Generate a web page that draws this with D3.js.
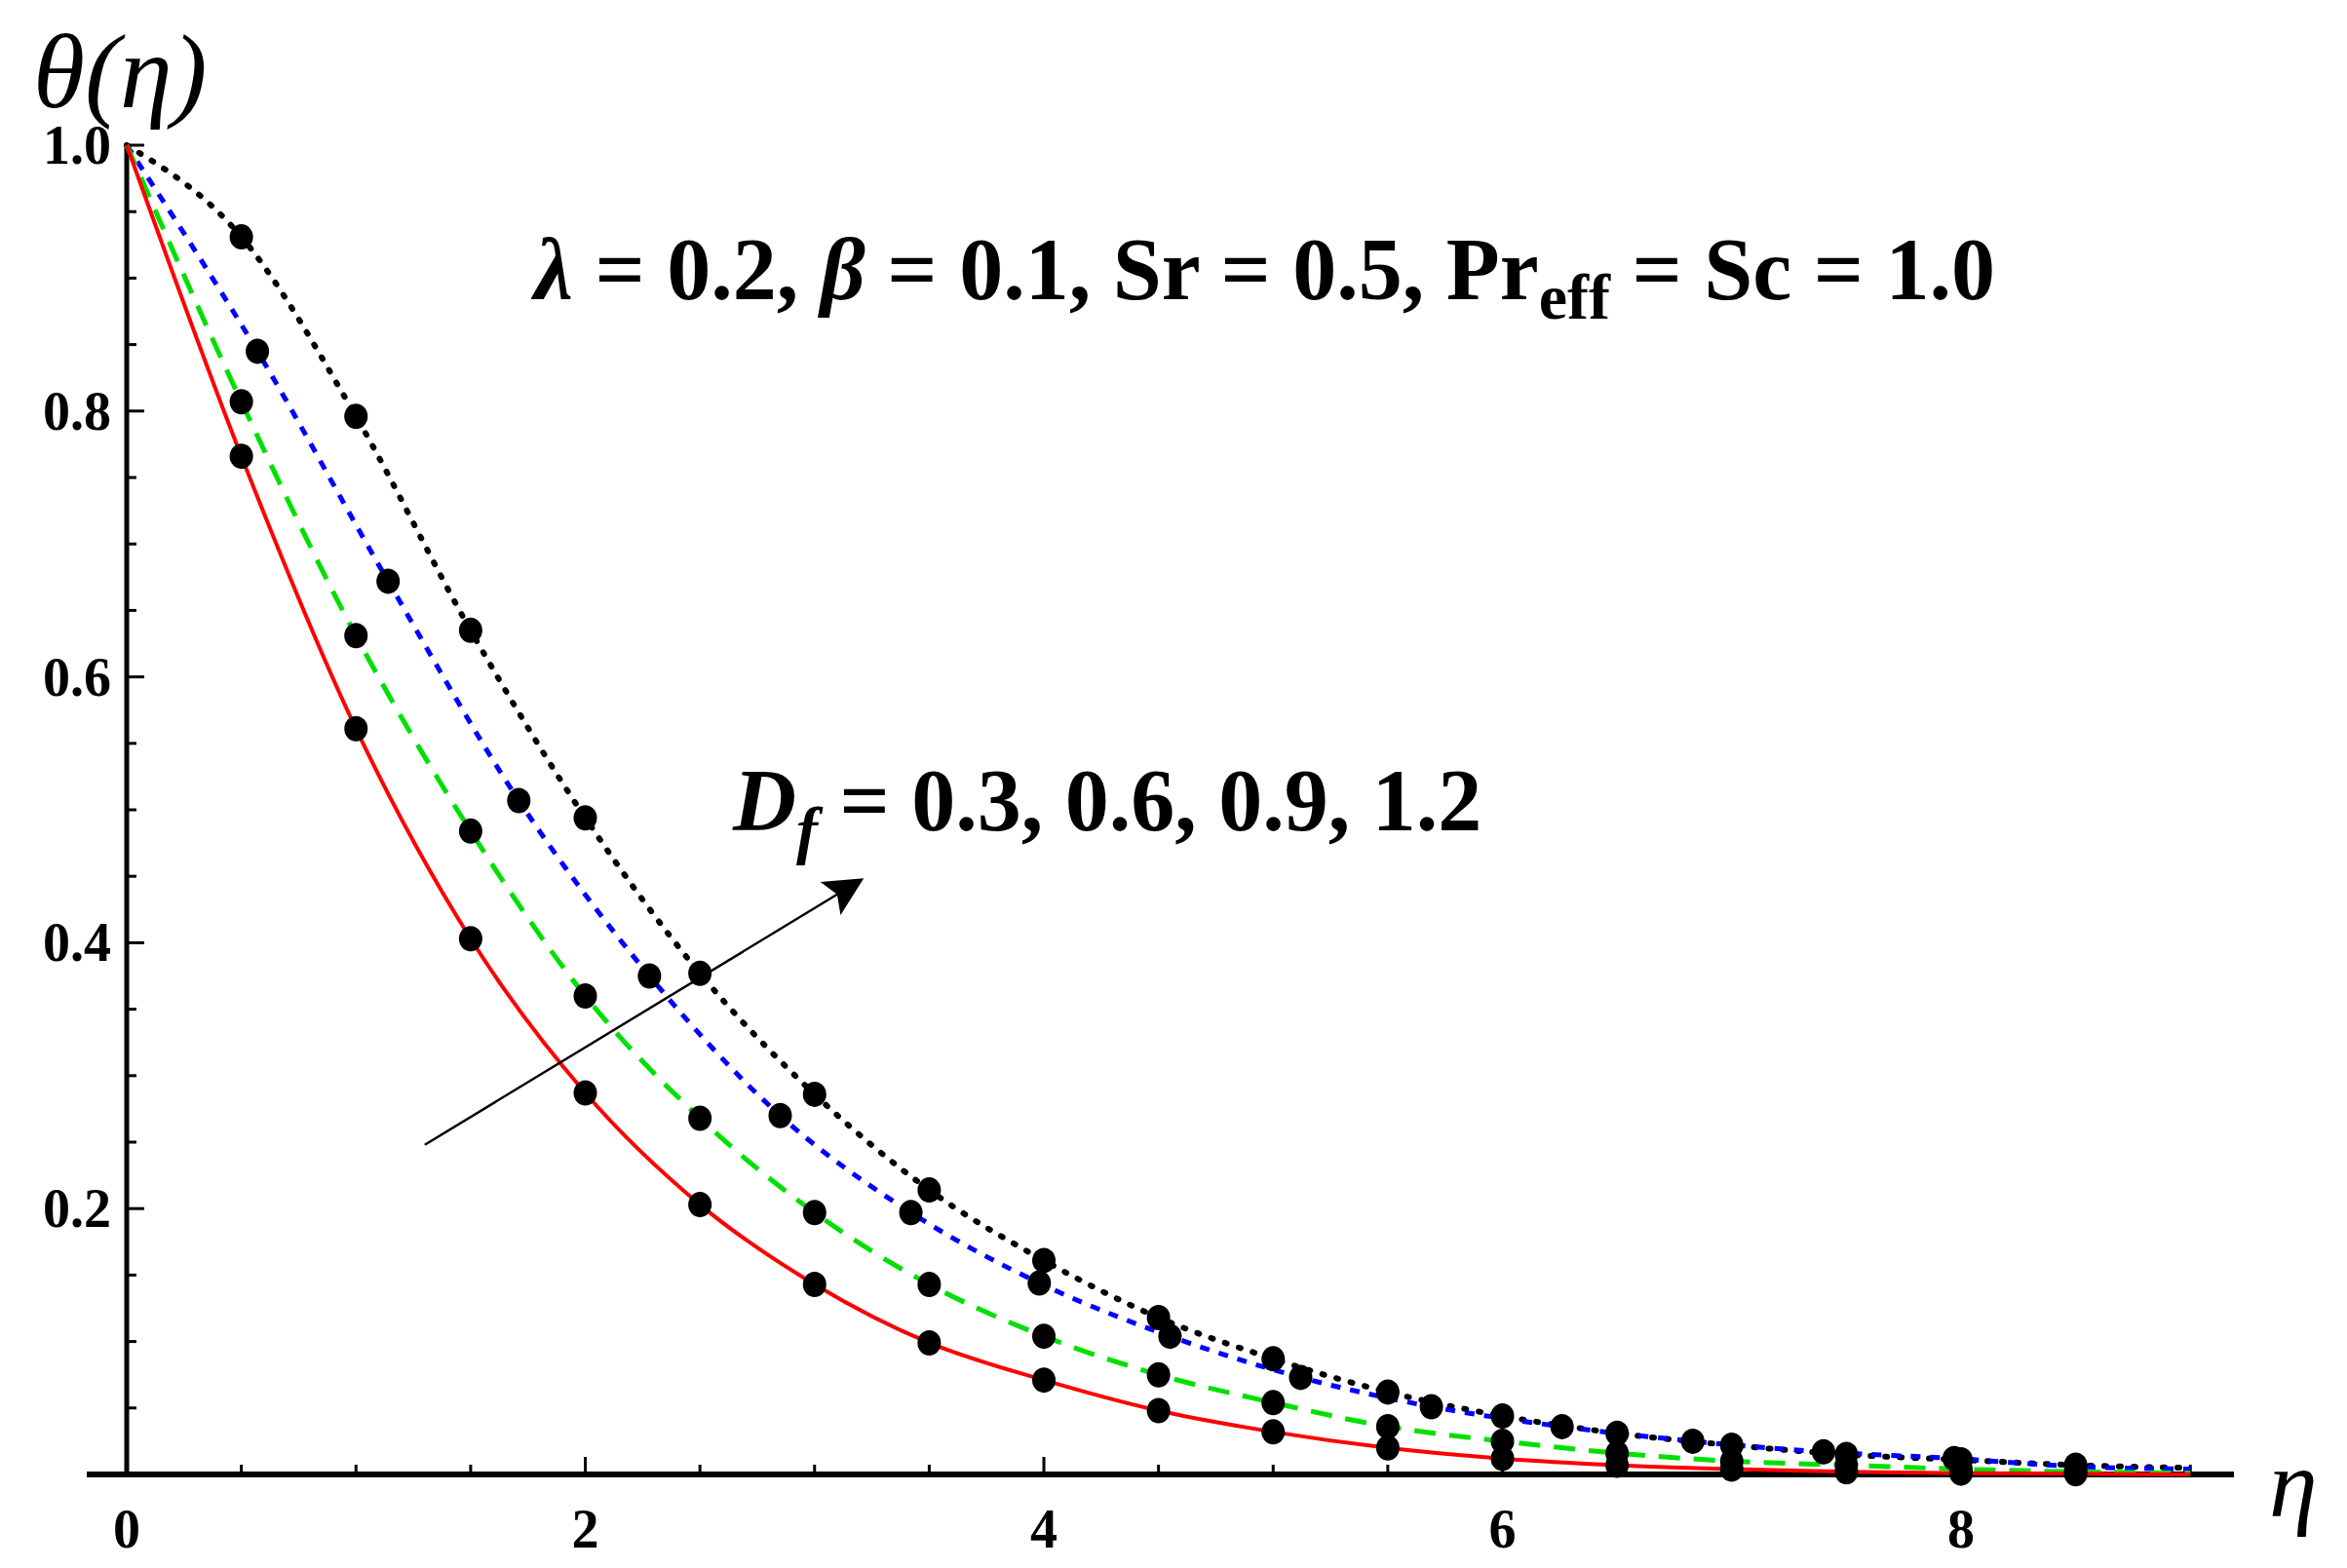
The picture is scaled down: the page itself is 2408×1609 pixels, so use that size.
<!DOCTYPE html>
<html>
<head>
<meta charset="utf-8">
<script src="https://cdn.jsdelivr.net/npm/d3@7/dist/d3.min.js"></script>
<style>
  body { margin: 0; background: #fff; }
  text { font-family: "Liberation Serif", "DejaVu Serif", serif; }
</style>
</head>
<body>
<svg id="chart"></svg>
<script>
// curve data (eta, theta)
const etaA = [0, 0.5, 1, 1.5, 2, 2.5, 3, 3.5, 4, 4.5, 5, 5.5, 6, 6.5, 7, 7.5, 8, 8.5, 9];
const redVals = [1, 0.766, 0.561, 0.403, 0.287, 0.203, 0.143, 0.099, 0.071, 0.048, 0.032, 0.020, 0.012, 0.007, 0.004, 0.002, 0.001, 0.0005, 0];
const greenVals = [1, 0.807, 0.631, 0.484, 0.360, 0.268, 0.197, 0.143, 0.104, 0.075, 0.054, 0.036, 0.025, 0.016, 0.010, 0.007, 0.004, 0.002, 0.001];
const blackVals = [1, 0.931, 0.796, 0.635, 0.494, 0.377, 0.286, 0.214, 0.161, 0.118, 0.087, 0.062, 0.044, 0.031, 0.022, 0.015, 0.011, 0.007, 0.005];
const etaB = [0, 0.57, 1.14, 1.71, 2.28, 2.85, 3.42, 3.98, 4.55, 5.12, 5.69, 6.26, 6.83, 7.4, 7.97, 8.5, 9];
const blueVals = [1, 0.845, 0.672, 0.507, 0.375, 0.270, 0.197, 0.144, 0.104, 0.073, 0.051, 0.036, 0.025, 0.017, 0.012, 0.006, 0.004];
const xTicks = [0, 2, 4, 6, 8];
const yTicks = [0.2, 0.4, 0.6, 0.8, 1.0];
const arrowFrom = [1.30, 0.248];
const arrowTo = [3.2, 0.447];

const W = 2408, H = 1609;
const svg = d3.select('#chart').attr('width', W).attr('height', H);

const x = d3.scaleLinear().domain([0, 8]).range([130, 2012]);
const y = d3.scaleLinear().domain([0, 1]).range([1513, 149]);

// axes
svg.append('line').attr('x1', 89).attr('x2', 2292).attr('y1', y(0)).attr('y2', y(0))
  .attr('stroke', '#000').attr('stroke-width', 6);
svg.append('line').attr('x1', x(0)).attr('x2', x(0)).attr('y1', y(0)).attr('y2', y(1) - 2)
  .attr('stroke', '#000').attr('stroke-width', 5);

d3.range(0, 9.01, 0.5).forEach(v => {
  const major = Math.abs(v % 2) < 1e-9;
  svg.append('line').attr('x1', x(v)).attr('x2', x(v))
    .attr('y1', y(0)).attr('y2', y(0) - (major ? 18 : 10))
    .attr('stroke', '#000').attr('stroke-width', 3);
});
d3.range(0.05, 1.001, 0.05).forEach(v => {
  const major = Math.abs(Math.round(v * 100) % 20) < 1e-6;
  svg.append('line').attr('x1', x(0)).attr('x2', x(0) + (major ? 18 : 10))
    .attr('y1', y(v)).attr('y2', y(v))
    .attr('stroke', '#000').attr('stroke-width', 3);
});

svg.selectAll('.xt').data(xTicks).enter().append('text')
  .attr('x', d => x(d)).attr('y', 1588).attr('text-anchor', 'middle')
  .attr('font-size', 56).attr('font-weight', 'bold').text(d => d);
svg.selectAll('.yt').data(yTicks).enter().append('text')
  .attr('x', 114).attr('y', d => y(d) + 19).attr('text-anchor', 'end')
  .attr('font-size', 56).attr('font-weight', 'bold').text(d => d.toFixed(1));

// curves
const line = d3.line().x(d => x(d[0])).y(d => y(d[1])).curve(d3.curveMonotoneX);
const series = [
  { xs: etaA, ys: blackVals, color: '#000', dash: '2,13', width: 6, cap: 'round' },
  { xs: etaB, ys: blueVals, color: '#0000ff', dash: '10,10', width: 5, cap: 'butt' },
  { xs: etaA, ys: greenVals, color: '#00e000', dash: '22,14', width: 5, cap: 'butt' },
  { xs: etaA, ys: redVals, color: '#ff0000', dash: null, width: 4, cap: 'butt' }
];
series.forEach(s => {
  const pts = s.xs.map((v, i) => [v, s.ys[i]]);
  svg.append('path').attr('d', line(pts)).attr('fill', 'none')
    .attr('stroke', s.color).attr('stroke-width', s.width)
    .attr('stroke-dasharray', s.dash).attr('stroke-linecap', s.cap);
});
series.forEach(s => {
  const pts = s.xs.map((v, i) => [v, s.ys[i]]).filter(d => d[0] > 0 && d[0] < 8.8);
  svg.selectAll(null).data(pts).enter().append('ellipse')
    .attr('cx', d => x(d[0])).attr('cy', d => y(d[1]))
    .attr('rx', 12).attr('ry', 13).attr('fill', '#000');
});

// arrow
svg.append('defs').append('marker').attr('id', 'ah').attr('viewBox', '0 0 10 10')
  .attr('refX', 9).attr('refY', 5).attr('markerWidth', 66).attr('markerHeight', 40)
  .attr('markerUnits', 'userSpaceOnUse').attr('orient', 'auto')
  .append('path').attr('d', 'M0,0 L10,5 L0,10 L2,5 Z').attr('fill', '#000');
svg.append('line')
  .attr('x1', x(arrowFrom[0])).attr('y1', y(arrowFrom[1]))
  .attr('x2', x(arrowTo[0])).attr('y2', y(arrowTo[1]))
  .attr('stroke', '#000').attr('stroke-width', 2.5).attr('marker-end', 'url(#ah)');

// labels
const t1 = svg.append('text').attr('x', 548).attr('y', 307).attr('font-size', 90).attr('font-weight', 'bold');
t1.append('tspan').attr('font-style', 'italic').text('λ');
t1.append('tspan').text(' = 0.2, ');
t1.append('tspan').attr('font-style', 'italic').text('β');
t1.append('tspan').text(' = 0.1, Sr = 0.5, Pr');
t1.append('tspan').attr('font-size', 66).attr('dy', 20).text('eff');
t1.append('tspan').attr('dy', -20).text(' = Sc = 1.0');

const t2 = svg.append('text').attr('x', 752).attr('y', 852).attr('font-size', 90).attr('font-weight', 'bold');
t2.append('tspan').attr('font-style', 'italic').text('D');
t2.append('tspan').attr('font-style', 'italic').attr('font-size', 66).attr('dy', 22).text('f');
t2.append('tspan').attr('dy', -22).text(' = 0.3, 0.6, 0.9, 1.2');

svg.append('text').attr('x', 34).attr('y', 110).attr('font-size', 108)
  .attr('font-style', 'italic').text('θ(η)');
svg.append('text').attr('x', 2328).attr('y', 1556).attr('font-size', 100)
  .attr('font-style', 'italic').text('η');
</script>
</body>
</html>
